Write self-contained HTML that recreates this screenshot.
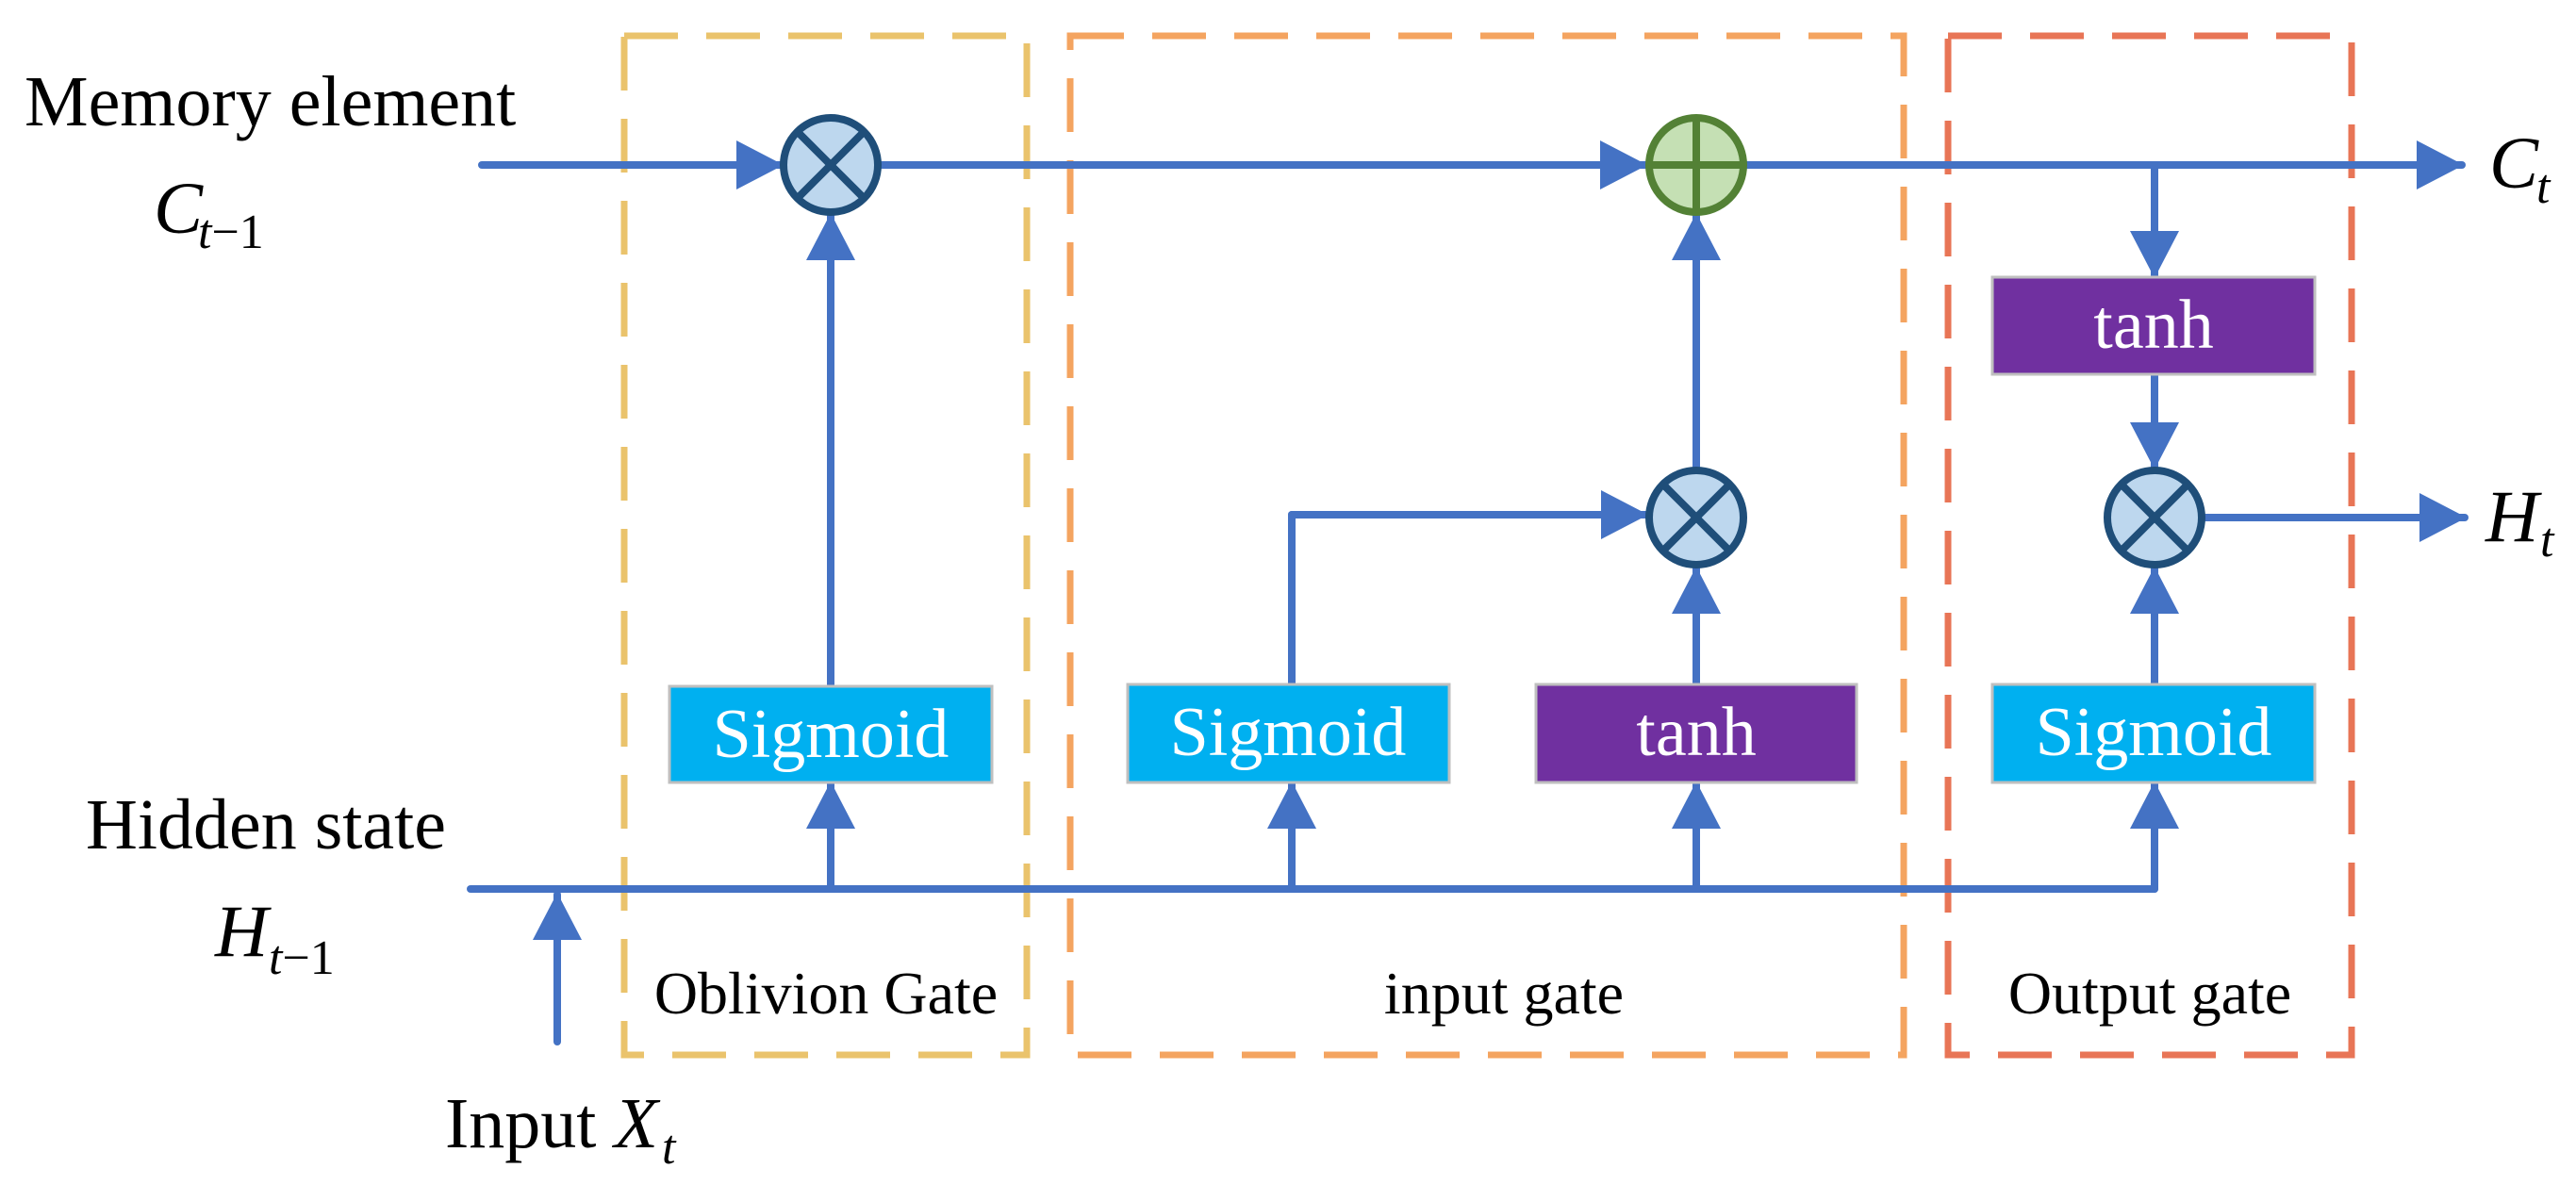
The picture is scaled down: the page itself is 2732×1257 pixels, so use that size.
<!DOCTYPE html>
<html><head><meta charset="utf-8"><style>
html,body{margin:0;padding:0;background:#fff;}
svg{display:block;}
text{font-family:"Liberation Serif",serif;}
</style></head><body>
<svg width="2732" height="1257" viewBox="0 0 2732 1257" xmlns="http://www.w3.org/2000/svg">
<defs>
<marker id="a" markerUnits="userSpaceOnUse" markerWidth="50" markerHeight="52" refX="48" refY="26" orient="auto">
<path d="M0,0 L50,26 L0,52 Z" fill="#4472C4"/>
</marker>
</defs>
<rect x="662" y="38" width="427" height="1081" fill="none" stroke="#EAC36C" stroke-width="7" stroke-dasharray="57,30"/>
<rect x="1135" y="38" width="884" height="1081" fill="none" stroke="#F4A460" stroke-width="7" stroke-dasharray="57,30"/>
<rect x="2066" y="38" width="428" height="1081" fill="none" stroke="#E87556" stroke-width="7" stroke-dasharray="57,30"/>

<g stroke="#4472C4" stroke-width="8" fill="none" stroke-linecap="round">
<line x1="511" y1="175" x2="829" y2="175" marker-end="url(#a)"/>
<line x1="934" y1="175" x2="1745" y2="175" marker-end="url(#a)"/>
<line x1="1852" y1="175" x2="2611" y2="175" marker-end="url(#a)"/>
<line x1="2285" y1="175" x2="2285" y2="293" marker-end="url(#a)"/>
<line x1="881" y1="726" x2="881" y2="228" marker-end="url(#a)"/>
<line x1="881" y1="943" x2="881" y2="831" marker-end="url(#a)"/>
<line x1="499" y1="943" x2="2285" y2="943"/>
<line x1="591" y1="1105" x2="591" y2="949" marker-end="url(#a)"/>
<line x1="1370" y1="943" x2="1370" y2="831" marker-end="url(#a)"/>
<line x1="1370" y1="726" x2="1370" y2="546" />
<line x1="1370" y1="546" x2="1746" y2="546" marker-end="url(#a)"/>
<line x1="1799" y1="943" x2="1799" y2="831" marker-end="url(#a)"/>
<line x1="1799" y1="726" x2="1799" y2="603" marker-end="url(#a)"/>
<line x1="1799" y1="498" x2="1799" y2="228" marker-end="url(#a)"/>
<line x1="2285" y1="943" x2="2285" y2="831" marker-end="url(#a)"/>
<line x1="2285" y1="726" x2="2285" y2="603" marker-end="url(#a)"/>
<line x1="2285" y1="397" x2="2285" y2="496" marker-end="url(#a)"/>
<line x1="2338" y1="549" x2="2614" y2="549" marker-end="url(#a)"/>
</g>

<g stroke="#1F4E79" stroke-width="8" fill="#BDD7EE">
<circle cx="881" cy="175" r="50"/>
<line x1="846" y1="140" x2="916" y2="210"/><line x1="916" y1="140" x2="846" y2="210"/>
<circle cx="1799" cy="549" r="50"/>
<line x1="1764" y1="514" x2="1834" y2="584"/><line x1="1834" y1="514" x2="1764" y2="584"/>
<circle cx="2285" cy="549" r="50"/>
<line x1="2250" y1="514" x2="2320" y2="584"/><line x1="2320" y1="514" x2="2250" y2="584"/>
</g>
<g stroke="#538135" stroke-width="8" fill="#C5E0B4">
<circle cx="1799" cy="175" r="50"/>
<line x1="1749" y1="175" x2="1849" y2="175"/><line x1="1799" y1="125" x2="1799" y2="225"/>
</g>

<g stroke="#BFBFBF" stroke-width="3">
<rect x="710" y="728" width="342" height="102" fill="#00B0F0"/>
<rect x="1196" y="726" width="341" height="104" fill="#00B0F0"/>
<rect x="1629" y="726" width="340" height="104" fill="#7030A0"/>
<rect x="2113" y="726" width="342" height="104" fill="#00B0F0"/>
<rect x="2113" y="294" width="342" height="103" fill="#7030A0"/>
</g>
<g fill="#fff" font-size="74" text-anchor="middle">
<text x="881" y="803">Sigmoid</text>
<text x="1366" y="801">Sigmoid</text>
<text x="1799" y="801">tanh</text>
<text x="2284" y="801">Sigmoid</text>
<text x="2284" y="369">tanh</text>
</g>

<g fill="#000">
<text x="26" y="133" font-size="76">Memory element</text>
<text x="163" y="247" font-size="78" font-style="italic">C</text>
<text x="210" y="263" font-size="52"><tspan font-style="italic">t</tspan>−1</text>
<text x="91" y="900" font-size="76">Hidden state</text>
<text x="228" y="1014" font-size="78" font-style="italic">H</text>
<text x="285" y="1033" font-size="52"><tspan font-style="italic">t</tspan>−1</text>
<text x="472" y="1217" font-size="76">Input <tspan font-style="italic">X</tspan></text>
<text x="702" y="1234" font-size="52" font-style="italic">t</text>
<text x="2640" y="199" font-size="78" font-style="italic">C</text>
<text x="2690" y="215" font-size="52" font-style="italic">t</text>
<text x="2636" y="574" font-size="78" font-style="italic">H</text>
<text x="2694" y="590" font-size="52" font-style="italic">t</text>
<text x="876" y="1075" font-size="64" text-anchor="middle">Oblivion Gate</text>
<text x="1595" y="1075" font-size="64" text-anchor="middle">input gate</text>
<text x="2280" y="1075" font-size="64" text-anchor="middle">Output gate</text>
</g>
</svg>
</body></html>
